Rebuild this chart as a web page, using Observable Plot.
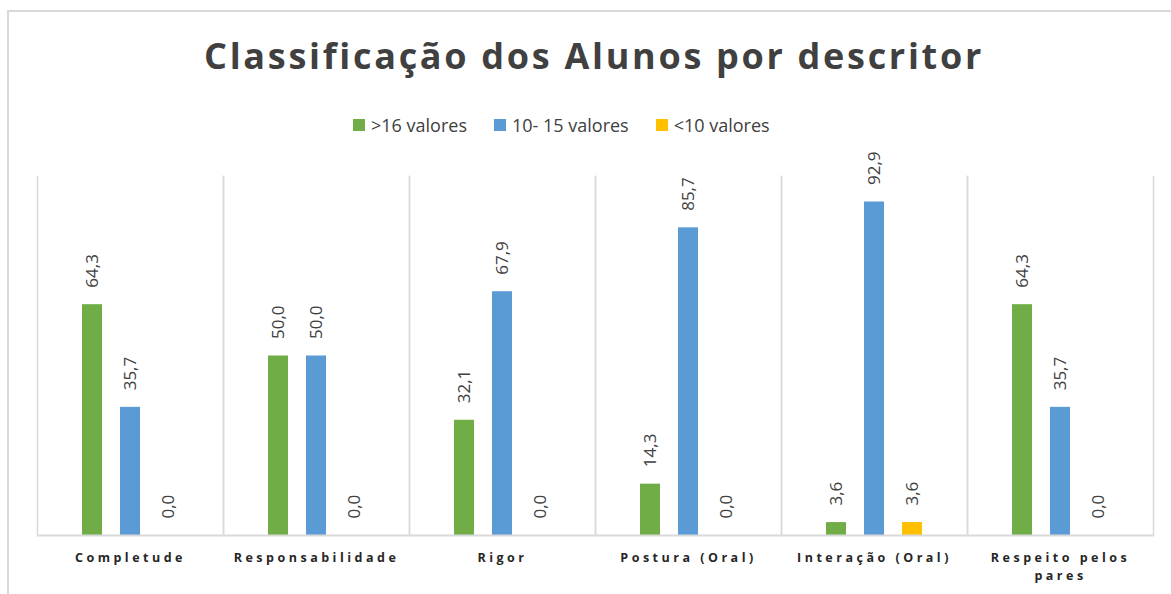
<!DOCTYPE html>
<html>
<head>
<meta charset="utf-8">
<script src="https://cdn.jsdelivr.net/npm/d3@7"></script>
<script src="https://cdn.jsdelivr.net/npm/@observablehq/plot@0.6"></script>
<style>
  html, body { margin: 0; padding: 0; background: #fff; width: 1171px; height: 594px; overflow: hidden; }
  #border { position: absolute; left: 7px; top: 10px; width: 1200px; height: 620px; border-left: 2px solid #d9d9d9; border-top: 2px solid #d9d9d9; }
  #title { position: absolute; left: 0; width: 1188px; top: 31px; text-align: center; font-family: "Open Sans", sans-serif; font-weight: bold; font-size: 36px; letter-spacing: 2.7px; color: #404040; line-height: 50px; }
  #legend { position: absolute; left: 353px; top: 111px; }
  #chart { position: absolute; left: 0; top: 160px; }
  .lg-swatches { font-family: "Open Sans", sans-serif !important; font-size: 18px !important; color: #404040 !important; min-height: 28px !important; margin: 0 !important; }
  .lg-swatch { margin-right: 27px !important; }
  .lg-swatch svg { margin-right: 6px !important; }
  #chart g[aria-label="fx-axis tick label"] text { letter-spacing: 3.5px; font-weight: bold; }
</style>
</head>
<body>
<div id="border"></div>
<div id="title">Classificação dos Alunos por descritor</div>
<div id="legend"></div>
<div id="chart"></div>
<script>
const categories = ["Completude", "Responsabilidade", "Rigor", "Postura (Oral)", "Interação (Oral)", "Respeito pelos pares"];
const series = [">16 valores", "10- 15 valores", "<10 valores"];
const colors = ["#70AD47", "#5B9BD5", "#FFC000"];
const high = [64.3, 50.0, 32.1, 14.3, 3.6, 64.3];
const mid = [35.7, 50.0, 67.9, 85.7, 92.9, 35.7];
const low = [0.0, 0.0, 0.0, 0.0, 3.6, 0.0];

const values = [high, mid, low];
const data = [];
categories.forEach((c, i) => {
  series.forEach((s, j) => data.push({cat: c, series: s, value: values[j][i]}));
});
const fmt = v => v.toFixed(1).replace(".", ",");

document.getElementById("legend").appendChild(Plot.legend({
  color: {type: "ordinal", domain: series, range: colors},
  swatchSize: 12,
  className: "lg"
}));

const chart = Plot.plot({
  width: 1171,
  height: 434,
  marginLeft: 37,
  marginRight: 18,
  marginTop: 16,
  marginBottom: 59,
  style: {fontFamily: "Open Sans, sans-serif", color: "#404040", background: "transparent", overflow: "visible"},
  fx: {domain: categories, padding: 0},
  x: {domain: series, paddingInner: 0.474, paddingOuter: 1.184, axis: null},
  y: {domain: [0, 100], axis: null},
  color: {domain: series, range: colors},
  marks: [
    Plot.frame({anchor: "left", stroke: "#d9d9d9", strokeWidth: 1.5}),
    Plot.frame({anchor: "right", stroke: "#d9d9d9", strokeWidth: 1.5}),
    Plot.barY(data, {fx: "cat", x: "series", y: "value", fill: "series"}),
    Plot.ruleY([0], {stroke: "#d9d9d9", strokeWidth: 2}),
    Plot.text(data, {fx: "cat", x: "series", y: "value", text: d => fmt(d.value), rotate: -90, textAnchor: "start", lineAnchor: "middle", dy: -17, fontSize: 17, fill: "#404040"}),
    Plot.axisFx({anchor: "bottom", tickSize: 0, tickPadding: 14, label: null, fontSize: 12.5, fill: "#262626",
      tickFormat: d => d === "Respeito pelos pares" ? "Respeito pelos\npares" : d, lineHeight: 1.45})
  ]
});
document.getElementById("chart").appendChild(chart);
</script>
</body>
</html>
